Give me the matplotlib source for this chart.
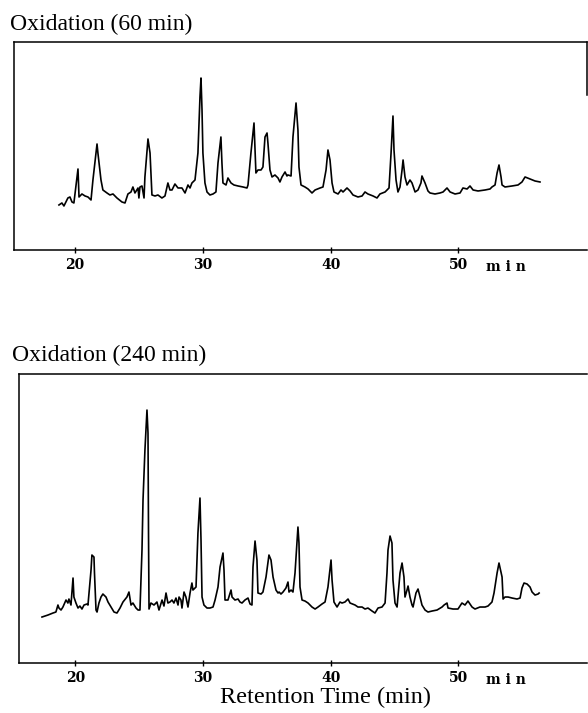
from matplotlib import pyplot
import matplotlib

matplotlib.rcParams['font.family'] = 'serif'
matplotlib.rcParams['font.serif'] = ['Liberation Serif', 'DejaVu Serif']

####
# traces (retention time in min, detector response in arbitrary units)

t_60 = [18.73, 18.96, 19.12, 19.43, 19.59, 19.75, 19.90, 20.22, 20.30, 20.53, 20.77, 21.00, 21.24,
        21.39, 21.71, 21.78, 22.02, 22.17, 22.49, 22.72, 22.96, 23.27, 23.66, 23.90, 24.13, 24.37,
        24.52, 24.68, 24.92, 24.99, 25.07, 25.23, 25.39, 25.46, 25.70, 25.86, 26.01, 26.25, 26.48,
        26.79, 27.03, 27.26, 27.42, 27.58, 27.81, 28.05, 28.36, 28.60, 28.83, 28.99, 29.14, 29.38,
        29.61, 29.77, 29.85, 29.93, 30.00, 30.16, 30.32, 30.55, 30.79, 31.02, 31.18, 31.41, 31.49,
        31.57, 31.81, 31.96, 32.20, 32.43, 32.75, 33.14, 33.45, 33.53, 33.76, 34.00, 34.08, 34.15,
        34.31, 34.55, 34.70, 34.86, 35.02, 35.09, 35.25, 35.41, 35.64, 35.88, 36.03, 36.19, 36.43,
        36.58, 36.66, 36.90, 37.05, 37.29, 37.44, 37.52, 37.68, 37.99, 38.23, 38.54, 38.78, 39.17,
        39.40, 39.64, 39.79, 39.95, 40.11, 40.26, 40.58, 40.81, 40.97, 41.28, 41.52, 41.75, 42.14,
        42.46, 42.69, 42.92, 43.32, 43.63, 43.86, 44.26, 44.57, 44.73, 44.88, 44.96, 45.12, 45.27,
        45.43, 45.59, 45.67, 45.82, 45.98, 46.21, 46.37, 46.61, 46.84, 47.07, 47.15, 47.39, 47.62,
        47.78, 48.17, 48.56, 48.80, 49.11, 49.35, 49.74, 50.13, 50.36, 50.68, 50.91, 51.15, 51.54,
        52.09, 52.48, 52.63, 52.87, 53.03, 53.18, 53.34, 53.42, 53.65, 54.20, 54.67, 54.98, 55.22,
        55.61, 56.00, 56.39]
y_60 = [45, 47, 44, 52, 53, 48, 47, 81, 53, 56, 54, 53, 50,
        70, 106, 97, 70, 60, 57, 55, 56, 52, 48, 47, 56, 58,
        63, 57, 62, 52, 63, 64, 52, 73, 111, 97, 55, 54, 55,
        52, 54, 67, 60, 60, 66, 62, 62, 57, 65, 62, 67, 70,
        97, 153, 172, 140, 97, 67, 58, 55, 56, 58, 87, 113, 87,
        67, 65, 72, 67, 65, 64, 63, 62, 65, 97, 127, 100, 77,
        80, 80, 83, 113, 117, 107, 80, 73, 75, 72, 68, 73, 78,
        74, 75, 74, 113, 147, 120, 83, 65, 63, 61, 57, 60, 62,
        63, 80, 100, 90, 67, 58, 56, 60, 58, 62, 59, 55, 53,
        54, 58, 56, 54, 52, 56, 58, 62, 97, 134, 100, 70, 58,
        63, 80, 90, 73, 65, 70, 67, 58, 60, 67, 74, 67, 59,
        57, 56, 57, 58, 62, 58, 56, 57, 62, 61, 64, 60, 59,
        60, 61, 63, 65, 77, 85, 73, 65, 63, 64, 65, 68, 73,
        71, 69, 68]

t_240 = [17.40, 17.87, 18.26, 18.49, 18.65, 18.73, 18.89, 19.04, 19.28, 19.43, 19.51, 19.67, 19.83,
         19.90, 20.06, 20.22, 20.37, 20.53, 20.69, 20.92, 21.00, 21.24, 21.31, 21.47, 21.51, 21.63,
         21.71, 21.86, 22.02, 22.17, 22.41, 22.57, 22.80, 23.04, 23.27, 23.51, 23.74, 24.05, 24.21,
         24.37, 24.52, 24.76, 24.92, 25.07, 25.23, 25.31, 25.46, 25.62, 25.70, 25.74, 25.78, 25.93,
         26.17, 26.40, 26.56, 26.80, 26.95, 27.11, 27.26, 27.42, 27.58, 27.73, 27.89, 28.05, 28.13,
         28.28, 28.36, 28.52, 28.67, 28.83, 28.99, 29.14, 29.22, 29.46, 29.61, 29.77, 29.85, 29.93,
         30.08, 30.32, 30.55, 30.79, 30.95, 31.18, 31.34, 31.57, 31.65, 31.73, 31.96, 32.20, 32.28,
         32.51, 32.75, 32.90, 33.06, 33.29, 33.53, 33.69, 33.84, 33.92, 34.08, 34.23, 34.31, 34.55,
         34.70, 34.94, 35.17, 35.33, 35.49, 35.72, 35.88, 35.96, 36.11, 36.27, 36.50, 36.66, 36.74,
         36.90, 37.05, 37.21, 37.37, 37.44, 37.52, 37.60, 37.76, 37.99, 38.23, 38.54, 38.78, 39.01,
         39.32, 39.56, 39.79, 40.03, 40.11, 40.26, 40.50, 40.73, 40.89, 41.12, 41.36, 41.52, 41.91,
         42.14, 42.46, 42.69, 42.92, 43.24, 43.47, 43.71, 44.02, 44.26, 44.41, 44.49, 44.65, 44.80,
         44.88, 45.04, 45.20, 45.43, 45.59, 45.74, 45.82, 45.98, 46.06, 46.21, 46.37, 46.45, 46.68,
         46.84, 47.00, 47.15, 47.39, 47.62, 47.94, 48.33, 48.72, 48.88, 49.11, 49.19, 49.58, 49.97,
         50.28, 50.52, 50.75, 51.07, 51.30, 51.69, 52.09, 52.32, 52.63, 52.79, 53.03, 53.18, 53.42,
         53.50, 53.65, 53.89, 54.20, 54.59, 54.83, 54.98, 55.14, 55.38, 55.61, 55.77, 56.00, 56.24,
         56.32]
y_240 = [46, 48, 50, 51, 58, 55, 53, 56, 63, 60, 64, 58, 85,
         66, 60, 55, 57, 54, 58, 59, 58, 93, 108, 106, 90, 53,
         51, 60, 66, 69, 66, 61, 56, 51, 50, 55, 61, 66, 71,
         58, 60, 55, 53, 53, 113, 163, 213, 253, 230, 130, 54, 60,
         58, 61, 53, 63, 57, 70, 60, 61, 63, 60, 65, 58, 66,
         63, 55, 71, 66, 56, 70, 80, 73, 76, 130, 165, 123, 66,
         58, 55, 55, 56, 63, 76, 96, 110, 93, 63, 63, 73, 66,
         63, 64, 61, 60, 63, 65, 59, 58, 96, 122, 103, 70, 69,
         71, 86, 108, 103, 86, 73, 70, 71, 69, 71, 75, 81, 71,
         73, 71, 90, 123, 136, 120, 76, 63, 62, 60, 56, 54, 56,
         59, 61, 76, 103, 83, 61, 56, 61, 60, 61, 64, 60, 58,
         56, 56, 54, 55, 52, 50, 55, 56, 60, 90, 113, 127, 120,
         83, 60, 56, 90, 100, 86, 66, 73, 77, 66, 58, 56, 70,
         74, 66, 58, 53, 51, 52, 53, 56, 58, 60, 55, 54, 54,
         60, 58, 62, 56, 54, 56, 56, 57, 61, 70, 90, 100, 86,
         64, 66, 66, 65, 64, 65, 75, 80, 79, 76, 71, 68, 69,
         70]

titles = ['Oxidation (60 min)', 'Oxidation (240 min)']
tick_vals = [20, 30, 40, 50]
tick_labels = ['20', '30', '40', '50']

############
#
# visualization
#
fig = pyplot.figure(figsize=(5.88, 7.13), dpi=100)

ax1 = fig.add_axes([0.0238, 0.6494, 0.9745, 0.2917])
ax2 = fig.add_axes([0.0323, 0.0701, 0.9660, 0.4053])

ax1.plot(t_60, y_60, c='k', lw=1.2)
ax2.plot(t_240, y_240, c='k', lw=1.2)

ax1.set_xlim(15.21, 60.07)
ax2.set_xlim(15.60, 60.07)
ax1.set_ylim(0, 208)
ax2.set_ylim(0, 289)

for axi in [ax1, ax2]:
    axi.set_yticks([])
    axi.set_xticks(tick_vals)
    axi.set_xticklabels(tick_labels, family='DejaVu Serif', fontweight='bold', fontsize=10)
    axi.tick_params(axis='x', direction='inout', length=5, width=1.0, pad=3)
    axi.spines['right'].set_visible(False)
    for s in ['left', 'top', 'bottom']:
        axi.spines[s].set_linewidth(1.1)
    axi.annotate('m i n', xy=(50, 0), xycoords=('data', 'axes fraction'),
                 xytext=(20, -7), textcoords='offset points', ha='left', va='top',
                 family='DejaVu Serif', fontweight='bold', fontsize=10)
#

# short piece of the right border that survives in the scan
ax1.plot([1, 1], [1, 0.745], transform=ax1.transAxes, c='k', lw=1.1, clip_on=False)

fig.text(10/588, 1 - 24/713, titles[0], fontsize=17, va='center', ha='left')
fig.text(12/588, 1 - 355/713, titles[1], fontsize=17, va='center', ha='left')
fig.text(326/588, 1 - 697/713, 'Retention Time (min)', fontsize=17.5, va='center', ha='center')

fig.savefig('out.png', dpi=100)
